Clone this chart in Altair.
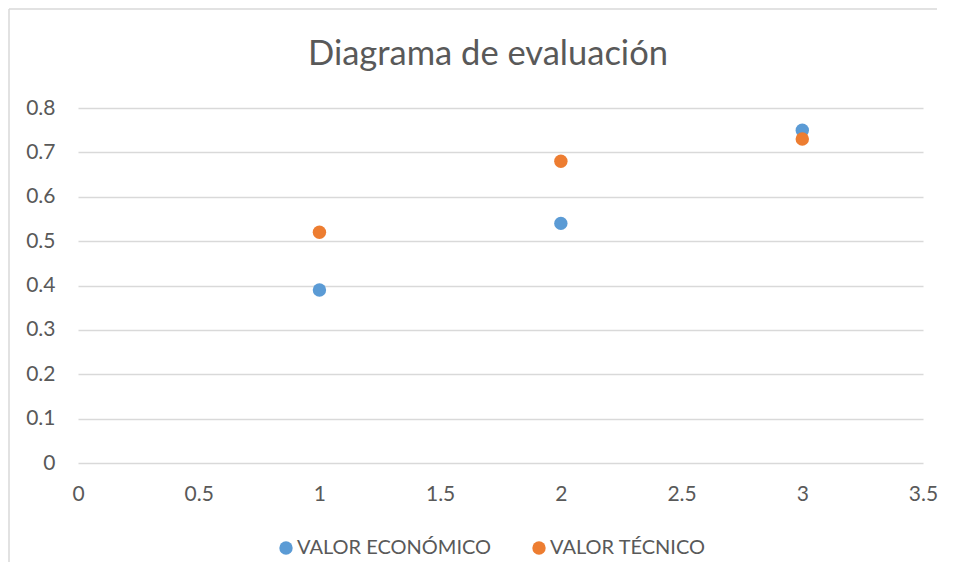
import altair as alt
import pandas as pd

x_values = [1, 2, 3]
valor_economico = [0.39, 0.54, 0.75]
valor_tecnico = [0.52, 0.68, 0.73]
series_names = ["VALOR ECONÓMICO", "VALOR TÉCNICO"]
series_colors = ["#5B9BD5", "#ED7D31"]
x_ticks = [0, 0.5, 1, 1.5, 2, 2.5, 3, 3.5]
y_ticks = [0, 0.1, 0.2, 0.3, 0.4, 0.5, 0.6, 0.7, 0.8]
title_text = "Diagrama de evaluación"

rows = []
for xv, yv in zip(x_values, valor_economico):
    rows.append({"x": xv, "y": yv, "serie": series_names[0]})
for xv, yv in zip(x_values, valor_tecnico):
    rows.append({"x": xv, "y": yv, "serie": series_names[1]})
df = pd.DataFrame(rows)

FONT = "Lato"
TXT = "#595959"
GRID = "#D9D9D9"

points = alt.Chart(df).mark_circle(size=180, opacity=1).encode(
    x=alt.X("x:Q", scale=alt.Scale(domain=[0, 3.5], nice=False, zero=True),
            axis=alt.Axis(values=x_ticks, format="~g", grid=False, ticks=False,
                          domain=False, title=None, labelPadding=20,
                          labelFlush=False, labelOverlap=False,
                          labelFontSize=21, labelColor=TXT, labelFont=FONT)),
    y=alt.Y("y:Q", scale=alt.Scale(domain=[0, 0.8], nice=False),
            axis=alt.Axis(values=y_ticks, format="~g", grid=True, gridColor=GRID,
                          gridWidth=1.5, ticks=False, domain=False, title=None,
                          labelPadding=23, labelFontSize=21, labelColor=TXT,
                          labelFlush=False, labelFont=FONT)),
    color=alt.Color("serie:N",
                    scale=alt.Scale(domain=series_names, range=series_colors),
                    legend=alt.Legend(title=None, orient="none", direction="horizontal",
                                      legendX=198, legendY=430,
                                      symbolType="circle", symbolSize=180,
                                      symbolOpacity=1, labelFontSize=20,
                                      labelColor=TXT, labelFont=FONT, labelLimit=0,
                                      labelOffset=1, columnPadding=37)),
)

title_df = pd.DataFrame({"t": [title_text]})
title_layer = alt.Chart(title_df).mark_text(
    font=FONT, fontSize=34.5, color=TXT, align="center", baseline="alphabetic"
).encode(x=alt.value(410), y=alt.value(-43), text="t:N")

border_df = pd.DataFrame({"a": [0]})
top_border = alt.Chart(border_df).mark_rule(color=GRID, strokeWidth=1.5).encode(
    x=alt.value(-69), x2=alt.value(859), y=alt.value(-99)
)
left_border = alt.Chart(border_df).mark_rule(color=GRID, strokeWidth=1.5).encode(
    x=alt.value(-69), y=alt.value(-99), y2=alt.value(454)
)

chart = alt.layer(points, title_layer, top_border, left_border).properties(
    width=845,
    height=355,
    autosize=alt.AutoSizeParams(type="none"),
    padding={"left": 70, "top": 100, "right": 15, "bottom": 100},
).configure_view(stroke=None)

chart.save("out.html", embed_options={"renderer": "svg", "actions": False})
